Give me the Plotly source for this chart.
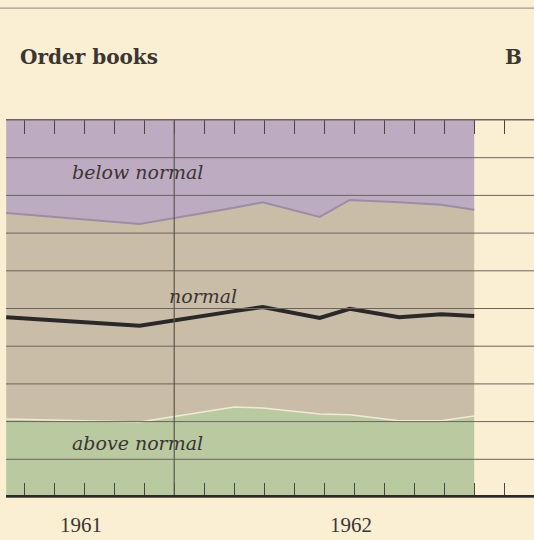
import plotly.graph_objects as go

# months measured from the 1961/1962 year boundary (0 = start of 1962)
months = [-5.6, -1.15, 2.0, 2.95, 4.85, 5.85, 7.5, 8.9, 10.0]
above_normal = [20.7, 19.9, 23.9, 23.6, 22.0, 21.8, 20.2, 20.2, 21.5]
normal = [54.6, 52.5, 52.8, 54.6, 52.3, 57.0, 58.0, 57.3, 54.7]
below_normal = [24.7, 27.6, 23.3, 21.8, 25.7, 21.2, 21.8, 22.5, 23.8]
normal_line = [47.7, 45.4, 49.3, 50.4, 47.5, 49.9, 47.7, 48.5, 48.0]

year_labels = ["1961", "1962"]
year_label_pos = [-3.1, 5.9]
grid_levels = [10, 20, 30, 40, 50, 60, 70, 80, 90, 100]

BG = "#fbefd3"
INK = "#3a3632"
GRID = "#6a655d"

fig = go.Figure()
fig.add_trace(go.Scatter(x=months, y=above_normal, stackgroup="s", mode="lines",
                         line=dict(color="#f3ead2", width=1.5), fillcolor="#b9c9a0",
                         name="above normal", hoverinfo="skip"))
fig.add_trace(go.Scatter(x=months, y=normal, stackgroup="s", mode="lines",
                         line=dict(color="#9d8ca6", width=2), fillcolor="#c9bda7",
                         name="normal", hoverinfo="skip"))
fig.add_trace(go.Scatter(x=months, y=below_normal, stackgroup="s", mode="lines",
                         line=dict(color="#bdabc1", width=0), fillcolor="#bdabc1",
                         name="below normal", hoverinfo="skip"))
fig.add_trace(go.Scatter(x=months, y=normal_line, mode="lines",
                         line=dict(color="#2a2828", width=4), name="index",
                         hoverinfo="skip"))

shapes = []
for g in grid_levels:
    shapes.append(dict(type="line", xref="x domain", yref="y", x0=0, x1=1, y0=g, y1=g,
                       line=dict(color=GRID, width=1), layer="above"))
# year boundary
shapes.append(dict(type="line", xref="x", yref="y", x0=0, x1=0, y0=0, y1=100,
                   line=dict(color="#5a5650", width=1.2), layer="above"))
# thick base line
shapes.append(dict(type="line", xref="x domain", yref="y", x0=0, x1=1, y0=0, y1=0,
                   line=dict(color="#2b2a24", width=4), layer="above"))
# top separator line of page
shapes.append(dict(type="line", xref="paper", yref="paper", x0=0, x1=1, y0=0.985, y1=0.985,
                   line=dict(color="#8a857c", width=1)))

annotations = [
    dict(text="<b>Order books</b>", xref="paper", yref="paper", x=18/534, y=(540-57)/540,
         xanchor="left", yanchor="middle", showarrow=False,
         font=dict(family="DejaVu Serif", size=20, color=INK)),
    dict(text="<b>B</b>", xref="paper", yref="paper", x=513/534, y=(540-57)/540,
         xanchor="center", yanchor="middle", showarrow=False,
         font=dict(family="DejaVu Serif", size=20, color=INK)),
    dict(text="<i>below normal</i>", x=-1.24, y=86.2, showarrow=False,
         font=dict(family="DejaVu Serif", size=19, color=INK)),
    dict(text="<i>normal</i>", x=0.96, y=53.3, showarrow=False,
         font=dict(family="DejaVu Serif", size=19, color=INK)),
    dict(text="<i>above normal</i>", x=-1.24, y=14.3, showarrow=False,
         font=dict(family="DejaVu Serif", size=19, color=INK)),
]
for lab, pos in zip(year_labels, year_label_pos):
    annotations.append(dict(text=lab, x=pos, xref="x", yref="paper", y=(540-525)/540,
                            yanchor="middle", showarrow=False,
                            font=dict(family="Liberation Serif", size=21, color=INK)))

fig.update_layout(
    width=534, height=540,
    margin=dict(l=0, r=0, t=0, b=0),
    paper_bgcolor=BG, plot_bgcolor=BG,
    showlegend=False,
    shapes=shapes,
    annotations=annotations,
    xaxis=dict(domain=[6/534, 1], range=[-5.607, 11.993], showgrid=False, zeroline=False,
               showline=True, linecolor=GRID, linewidth=1, mirror="ticks",
               ticks="inside", ticklen=14, tickwidth=1.2, tickcolor="#4a4540",
               tickmode="linear", tick0=0, dtick=1, showticklabels=False),
    yaxis=dict(domain=[(540-497)/540, (540-120)/540], range=[0, 100], showgrid=False,
               zeroline=False, showticklabels=False, ticks=""),
)

fig.write_html("out.html",
               config={"displayModeBar": False},
               post_script="document.body.style.margin='0';document.body.style.padding='0';"
                           "document.body.style.background='" + BG + "';"
                           "document.documentElement.style.overflow='hidden';")
